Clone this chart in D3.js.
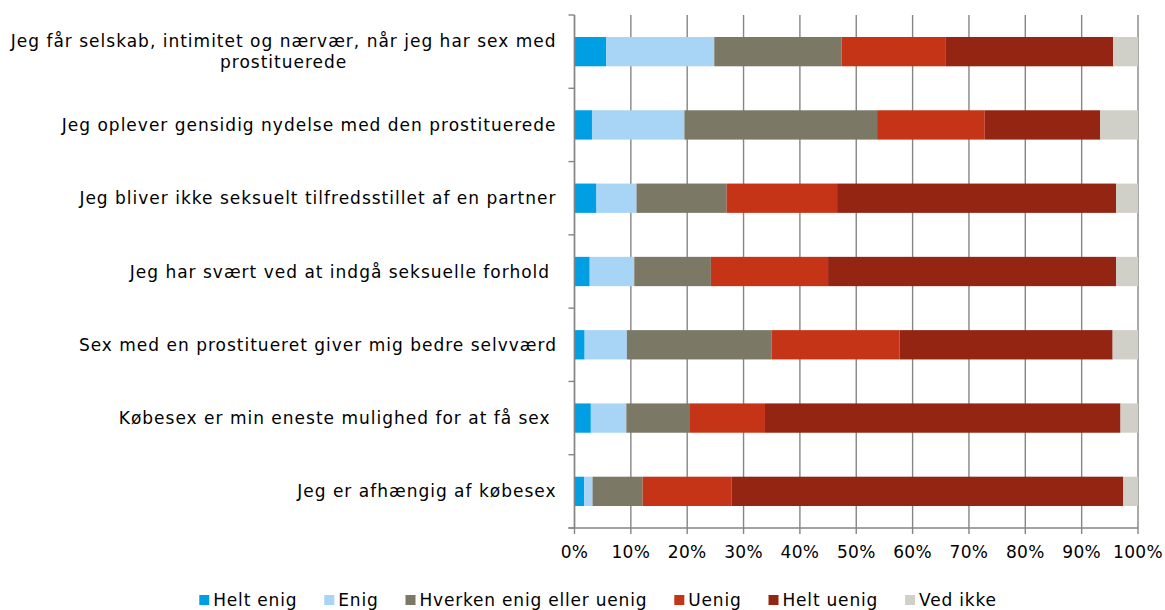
<html lang="da">
  <head>
    <meta charset="utf-8">
    <title>Holdninger til købesex</title>
    <script src="https://d3js.org/d3.v7.min.js"></script>
    <style>
      body { margin: 0; background: #fff; }
      text { font-family: 'DejaVu Sans', Verdana, sans-serif; fill: #000; }
    </style>
  </head>
  <body>
    <div id="container"></div>
    <script>
      // Statements (top to bottom), line breaks as in the original
      const categories = [
        ['Jeg får selskab, intimitet og nærvær, når jeg har sex med', 'prostituerede'],
        ['Jeg oplever gensidig nydelse med den prostituerede'],
        ['Jeg bliver ikke seksuelt tilfredsstillet af en partner'],
        ['Jeg har svært ved at indgå seksuelle forhold '],
        ['Sex med en prostitueret giver mig bedre selvværd'],
        ['Købesex er min eneste mulighed for at få sex '],
        ['Jeg er afhængig af købesex']
      ]
      const seriesNames = ['Helt enig', 'Enig', 'Hverken enig eller uenig', 'Uenig', 'Helt uenig', 'Ved ikke']
      const heltEnig   = [5.6, 3.1, 3.9, 2.7, 1.8, 2.9, 1.7]
      const enig       = [19.2, 16.4, 7.1, 7.9, 7.5, 6.3, 1.5]
      const hverken    = [22.6, 34.2, 16.0, 13.6, 25.7, 11.3, 8.9]
      const uenig      = [18.4, 19.1, 19.6, 20.8, 22.7, 13.3, 15.8]
      const heltUenig  = [29.8, 20.5, 49.5, 51.1, 37.8, 63.1, 69.5]
      const vedIkke    = [4.4, 6.7, 3.9, 3.9, 4.5, 3.1, 2.6]
      const xTicks = [0, 10, 20, 30, 40, 50, 60, 70, 80, 90, 100]

      const colors = ['#009fe3', '#a8d4f5', '#7b7965', '#c63418', '#942513', '#d0d0c8']

      const W = 1165, H = 610
      const plotLeft = 574.5, plotRight = 1138, plotTop = 15, plotBottom = 528

      let svg = d3.select('#container').append('svg')
        .attr('width', W)
        .attr('height', H)

      // Build rows for the stack
      let rows = categories.map((c, i) => ({
        key: i,
        'Helt enig': heltEnig[i],
        'Enig': enig[i],
        'Hverken enig eller uenig': hverken[i],
        'Uenig': uenig[i],
        'Helt uenig': heltUenig[i],
        'Ved ikke': vedIkke[i]
      }))
      let stack = d3.stack().keys(seriesNames).offset(d3.stackOffsetExpand)(rows)

      let x = d3.scaleLinear().domain([0, 1]).range([plotLeft, plotRight])
      let y = d3.scaleBand().domain(d3.range(categories.length)).range([plotTop, plotBottom]).paddingInner(0.6).paddingOuter(0.3)

      // Vertical gridlines with ticks below the axis
      svg.append('g')
        .selectAll('line')
        .data(xTicks).enter()
        .append('line')
        .attr('x1', d => x(d / 100))
        .attr('x2', d => x(d / 100))
        .attr('y1', plotTop)
        .attr('y2', plotBottom + 6)
        .attr('stroke', '#858585')
        .attr('stroke-width', 1.4)

      // Bars
      svg.append('g')
        .selectAll('g')
        .data(stack).enter()
        .append('g')
        .attr('fill', (d, i) => colors[i])
        .selectAll('rect')
        .data(d => d).enter()
        .append('rect')
        .attr('x', d => x(d[0]))
        .attr('width', d => x(d[1]) - x(d[0]))
        .attr('y', (d, i) => y(i))
        .attr('height', y.bandwidth())

      // Left axis line + category ticks
      let step = (plotBottom - plotTop) / categories.length
      svg.append('line')
        .attr('x1', plotLeft).attr('x2', plotLeft)
        .attr('y1', plotTop).attr('y2', plotBottom)
        .attr('stroke', '#858585').attr('stroke-width', 1.4)
      svg.append('g')
        .selectAll('line')
        .data(d3.range(categories.length + 1)).enter()
        .append('line')
        .attr('x1', plotLeft - 6).attr('x2', plotLeft)
        .attr('y1', d => plotTop + d * step).attr('y2', d => plotTop + d * step)
        .attr('stroke', '#858585').attr('stroke-width', 1.4)
      // Bottom axis line
      svg.append('line')
        .attr('x1', plotLeft - 6).attr('x2', plotRight)
        .attr('y1', plotBottom).attr('y2', plotBottom)
        .attr('stroke', '#858585').attr('stroke-width', 1.4)

      // X tick labels
      svg.append('g')
        .selectAll('text')
        .data(xTicks).enter()
        .append('text')
        .attr('x', d => x(d / 100))
        .attr('y', 558)
        .attr('text-anchor', 'middle')
        .attr('font-size', 17)
        .attr('letter-spacing', 0.3)
        .text(d => d + '%')

      // Category labels: block right aligned, lines centered
      let labelRight = 557
      categories.forEach((lines, i) => {
        let cy = y(i) + y.bandwidth() / 2
        let t = svg.append('text')
          .attr('font-size', 17)
          .attr('letter-spacing', 1)
          .attr('text-anchor', 'middle')
          .style('white-space', 'pre')
        lines.forEach((l, j) => {
          t.append('tspan')
            .attr('x', 0)
            .attr('y', cy + 6 + (j - (lines.length - 1) / 2) * 21)
            .text(l)
        })
        let bw = t.node().getBBox().width
        t.attr('transform', `translate(${labelRight - bw / 2},0)`)
      })

      // Legend
      let legend = svg.append('g')
      let lx = 0
      seriesNames.forEach((name, i) => {
        let item = legend.append('g').attr('transform', `translate(${lx},0)`)
        item.append('rect')
          .attr('x', 0).attr('y', -11)
          .attr('width', 10).attr('height', 10)
          .attr('fill', colors[i])
        let t = item.append('text')
          .attr('x', 14).attr('y', 0)
          .attr('font-size', 17)
          .attr('letter-spacing', 0.8)
          .text(name)
        lx += 14 + t.node().getComputedTextLength() + 27
      })
      let totalW = lx - 27
      legend.attr('transform', `translate(${598 - totalW / 2},606)`)
    </script>
  </body>
</html>
